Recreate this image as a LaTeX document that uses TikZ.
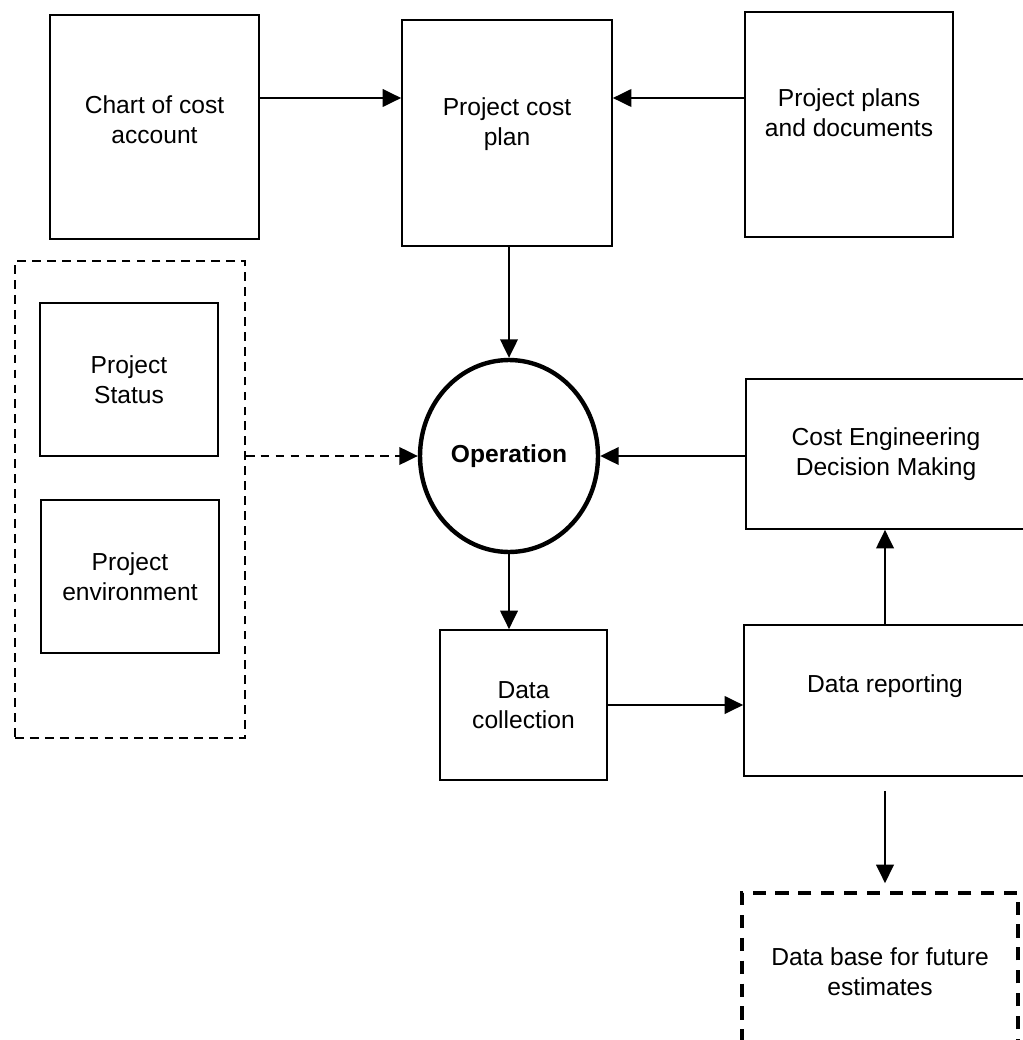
\documentclass[tikz,border=0pt]{standalone}
\usepackage{fontspec}
\setmainfont{Liberation Sans}
\usetikzlibrary{shapes.geometric,arrows.meta}

\tikzset{
  box/.style={draw, line width=1pt, align=center, font=\fontsize{14}{17}\selectfont},
  boxlabel/.style={align=center, font=\fontsize{14}{17}\selectfont},
  opcircle/.style={draw, ellipse, line width=2.5pt, inner sep=0pt, font=\bfseries\fontsize{14}{17}\selectfont},
  groupbox/.style={draw, line width=0.9pt, dash pattern=on 5pt off 3.5pt},
  dbbox/.style={box, line width=2.2pt, dash pattern=on 7.5pt off 5.5pt},
  arr/.style={line width=1pt, -{Triangle[length=10.5pt,width=10pt]}},
  dasharr/.style={arr, dash pattern=on 5pt off 3.5pt},
}

\begin{document}
\begin{tikzpicture}[x=0.02cm, y=-0.02cm]
\useasboundingbox (0,0) rectangle (1022,1040);

% Row for the top arrows
\coordinate (toprow) at (0,98);

% Top row of boxes
\node[box, minimum width=4.18cm, minimum height=4.48cm,
  label={[boxlabel, yshift=4pt]center:Chart of cost\\account}] (chart) at (154.5,127) {};
\node[box, minimum width=4.2cm, minimum height=4.52cm,
  label={[boxlabel, yshift=5pt]center:Project cost\\plan}] (costplan) at (507,133) {};
\node[box, minimum width=4.16cm, minimum height=4.5cm,
  label={[boxlabel, yshift=6.5pt]center:Project plans\\and documents}] (plans) at (849,124.5) {};

% Dashed group on the left
\node[groupbox, minimum width=4.6cm, minimum height=9.54cm] (group) at (130,499.5) {};
\node[box, minimum width=3.56cm, minimum height=3.06cm] (status) at (129,379.5) {Project\\Status};
\node[box, minimum width=3.56cm, minimum height=3.06cm] (environ) at (130,576.5) {Project\\environment};

% Operation
\node[opcircle, minimum width=3.56cm, minimum height=3.84cm] (operation) at (509,456) {Operation};

% Right side and bottom
\node[box, minimum width=5.6cm, minimum height=3cm] (costeng) at (886,454) {Cost Engineering\\Decision Making};
\node[box, minimum width=3.34cm, minimum height=3cm] (collect) at (523.5,705) {Data\\collection};
\node[box, minimum width=5.64cm, minimum height=3.02cm, text depth=19pt] (report) at (885,700.5) {Data reporting};
\node[dbbox, minimum width=5.52cm, minimum height=3.14cm] (database) at (880,971.5) {Data base for future\\estimates};

% Arrows
\draw[arr] (chart.east |- toprow) -- (costplan.west |- toprow);
\draw[arr] (plans.west |- toprow) -- (costplan.east |- toprow);
\draw[arr] (operation.north |- costplan.south) -- (operation.north);
\draw[dasharr] (group.east |- operation.west) -- (operation.west);
\draw[arr] (costeng.west |- operation.east) -- (operation.east);
\draw[arr] (operation.south) -- (operation.south |- collect.north);
\draw[arr] (collect.east) -- (collect.east -| report.west);
\draw[arr] (report.north) -- (report.north |- costeng.south);
\draw[arr, shorten <=8pt, shorten >=4.5pt] (report.south) -- (report.south |- database.north);

\end{tikzpicture}
\end{document}
